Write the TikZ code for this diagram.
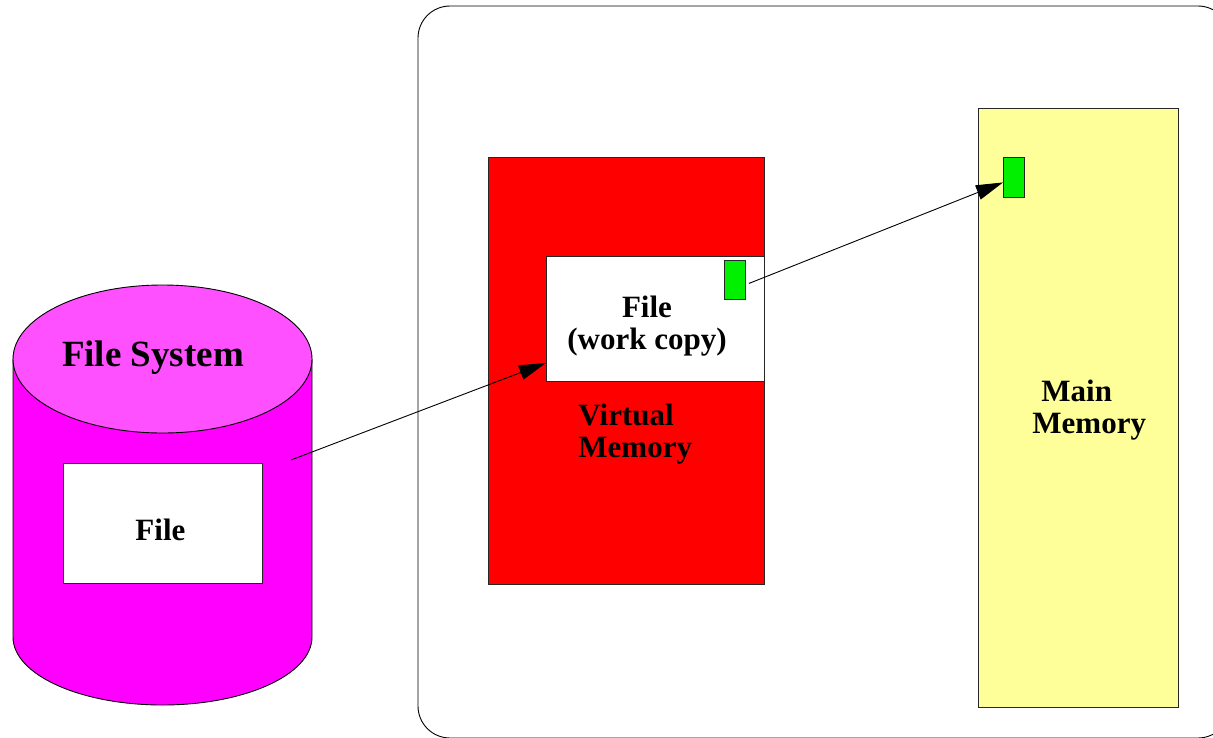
\documentclass[tikz,border=0pt]{standalone}
\usepackage{fontspec}
\setmainfont{Liberation Serif}
\usetikzlibrary{arrows.meta}
\definecolor{fsbody}{HTML}{FF00FF}
\definecolor{fstop}{HTML}{FF50FF}
\definecolor{vmred}{HTML}{FF0000}
\definecolor{mmyellow}{HTML}{FFFF99}
\definecolor{pggreen}{HTML}{00F000}
\begin{document}
\begin{tikzpicture}[x=1pt,y=-1pt,line width=0.9pt,
  box/.style={draw=black!85,inner sep=0pt,anchor=north west},
  lbl/.style={font=\bfseries\fontsize{31}{32.5}\selectfont,inner sep=0pt,text=black},
  conn/.style={draw=black,line width=0.9pt,-{Triangle[length=27pt,width=15pt]}}]
\useasboundingbox (0,0) rectangle (1213,737);
\clip (0,0) rectangle (1213,737);
% outer computer frame
\draw[black,rounded corners=32pt] (418,6) rectangle (1230,738);
% file system cylinder
\filldraw[fill=fsbody,draw=black] (13,359) -- (13,637)
  arc[start angle=180,end angle=360,x radius=149.5pt,y radius=68pt] -- (312,359) -- cycle;
\filldraw[fill=fstop,draw=black] (162.5,359) ellipse[x radius=149.5pt,y radius=74pt];
\node[lbl,font=\bfseries\fontsize{37}{40}\selectfont] (fstext) at (153,358) {File System};
\node[box,fill=white,minimum width=199,minimum height=120] (file) at (63,463) {};
\node[lbl] (filetext) at ([xshift=-2.5pt,yshift=-6pt]file.center) {File};
% virtual memory
\node[box,fill=vmred,minimum width=276,minimum height=427] (vm) at (488,157) {};
\node[box,fill=white,minimum width=218,minimum height=125] (wc) at (546,256) {};
\node[lbl,align=center] (wctext) at (647,326) {File\\(work copy)};
\node[box,fill=pggreen,minimum width=21,minimum height=39] (pg1) at (724,260) {};
\node[lbl,align=left,anchor=west] (vmtext) at (578,434) {Virtual\\Memory};
% main memory
\node[box,fill=mmyellow,minimum width=200,minimum height=599] (mm) at (978,108) {};
\node[box,fill=pggreen,minimum width=21,minimum height=40] (pg2) at (1003,157) {};
\node[lbl,align=left,anchor=west] (mmtext) at (1032,410) {\hspace*{9pt}Main\\Memory};
% connectors
\coordinate (fsout) at (291,460);
\draw[conn] (fsout) -- ([yshift=19pt]wc.south west);
\draw[conn] ([xshift=3pt,yshift=-3.5pt]pg1.east) -- ([yshift=-5pt]pg2.west);
\end{tikzpicture}
\end{document}
